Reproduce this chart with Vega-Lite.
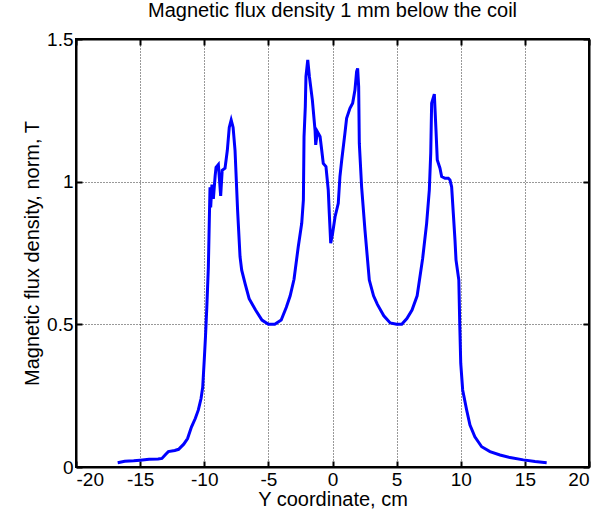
{
  "$schema": "https://vega.github.io/schema/vega-lite/v6.json",
  "width": 513,
  "height": 428,
  "autosize": {"type": "none"},
  "padding": {"left": 76, "top": 39, "right": 21, "bottom": 46},
  "background": "white",
  "title": {"text": "Magnetic flux density 1 mm below the coil", "fontSize": 20, "font": "Liberation Sans", "fontWeight": "normal", "color": "black", "offset": 9},
  "config": {
    "view": {"stroke": "black", "strokeWidth": 2},
    "axis": {"labelFont": "Liberation Sans", "titleFont": "Liberation Sans", "labelFontSize": 19, "titleFontSize": 20, "titleFontWeight": "normal", "labelColor": "black", "titleColor": "black", "domainColor": "black", "domainWidth": 2, "tickColor": "black", "tickWidth": 2, "gridColor": "#333", "gridDash": [1, 2], "gridWidth": 1, "gridOpacity": 1}
  },
  "data": {"values": [
    {"x": -16.75, "b": 0.015}, {"x": -16.2, "b": 0.02}, {"x": -15.5, "b": 0.022}, {"x": -15, "b": 0.024}, {"x": -14.3, "b": 0.027}, {"x": -13.6, "b": 0.028}, {"x": -13.3, "b": 0.03}, {"x": -13.0, "b": 0.045}, {"x": -12.8, "b": 0.054}, {"x": -12.3, "b": 0.058}, {"x": -12.0, "b": 0.062}, {"x": -11.6, "b": 0.08}, {"x": -11.3, "b": 0.1}, {"x": -11.0, "b": 0.14}, {"x": -10.7, "b": 0.17}, {"x": -10.46, "b": 0.2}, {"x": -10.25, "b": 0.24}, {"x": -10.12, "b": 0.28}, {"x": -10.0, "b": 0.375}, {"x": -9.9, "b": 0.46}, {"x": -9.8, "b": 0.56}, {"x": -9.68, "b": 0.70}, {"x": -9.6, "b": 0.877}, {"x": -9.55, "b": 0.98}, {"x": -9.5, "b": 0.91}, {"x": -9.4, "b": 0.99}, {"x": -9.29, "b": 0.94}, {"x": -9.15, "b": 1.02}, {"x": -9.08, "b": 1.05}, {"x": -8.9, "b": 1.06}, {"x": -8.8, "b": 1.0}, {"x": -8.72, "b": 0.95}, {"x": -8.6, "b": 1.04}, {"x": -8.38, "b": 1.047}, {"x": -8.2, "b": 1.11}, {"x": -8.05, "b": 1.19}, {"x": -7.9, "b": 1.216}, {"x": -7.75, "b": 1.19}, {"x": -7.6, "b": 1.11}, {"x": -7.4, "b": 0.9}, {"x": -7.21, "b": 0.737}, {"x": -7.08, "b": 0.69}, {"x": -6.8, "b": 0.64}, {"x": -6.5, "b": 0.59}, {"x": -6, "b": 0.55}, {"x": -5.5, "b": 0.515}, {"x": -5, "b": 0.50}, {"x": -4.5, "b": 0.50}, {"x": -4, "b": 0.515}, {"x": -3.6, "b": 0.56}, {"x": -3.3, "b": 0.6}, {"x": -3.0, "b": 0.658}, {"x": -2.67, "b": 0.772}, {"x": -2.4, "b": 0.854}, {"x": -2.27, "b": 0.936}, {"x": -2.22, "b": 1.158}, {"x": -2.12, "b": 1.263}, {"x": -2.07, "b": 1.368}, {"x": -1.93, "b": 1.427}, {"x": -1.8, "b": 1.368}, {"x": -1.57, "b": 1.286}, {"x": -1.36, "b": 1.18}, {"x": -1.31, "b": 1.129}, {"x": -1.18, "b": 1.175}, {"x": -0.97, "b": 1.158}, {"x": -0.84, "b": 1.11}, {"x": -0.72, "b": 1.064}, {"x": -0.51, "b": 1.053}, {"x": -0.33, "b": 0.97}, {"x": -0.25, "b": 0.889}, {"x": -0.14, "b": 0.784}, {"x": 0.01, "b": 0.819}, {"x": 0.2, "b": 0.877}, {"x": 0.45, "b": 0.924}, {"x": 0.58, "b": 1.018}, {"x": 0.72, "b": 1.076}, {"x": 0.97, "b": 1.17}, {"x": 1.1, "b": 1.222}, {"x": 1.36, "b": 1.257}, {"x": 1.57, "b": 1.275}, {"x": 1.75, "b": 1.321}, {"x": 1.88, "b": 1.386}, {"x": 1.96, "b": 1.397}, {"x": 2.04, "b": 1.333}, {"x": 2.09, "b": 1.135}, {"x": 2.27, "b": 0.982}, {"x": 2.53, "b": 0.831}, {"x": 2.87, "b": 0.655}, {"x": 3.2, "b": 0.6}, {"x": 3.5, "b": 0.57}, {"x": 4, "b": 0.53}, {"x": 4.5, "b": 0.505}, {"x": 5, "b": 0.50}, {"x": 5.4, "b": 0.50}, {"x": 5.8, "b": 0.52}, {"x": 6.2, "b": 0.55}, {"x": 6.6, "b": 0.6}, {"x": 7.03, "b": 0.731}, {"x": 7.34, "b": 0.854}, {"x": 7.55, "b": 0.971}, {"x": 7.66, "b": 1.1}, {"x": 7.73, "b": 1.275}, {"x": 7.94, "b": 1.307}, {"x": 8.07, "b": 1.18}, {"x": 8.17, "b": 1.076}, {"x": 8.38, "b": 1.047}, {"x": 8.51, "b": 1.018}, {"x": 8.77, "b": 1.012}, {"x": 9.03, "b": 1.012}, {"x": 9.16, "b": 1.006}, {"x": 9.29, "b": 0.982}, {"x": 9.42, "b": 0.889}, {"x": 9.55, "b": 0.796}, {"x": 9.63, "b": 0.726}, {"x": 9.85, "b": 0.655}, {"x": 9.92, "b": 0.504}, {"x": 10.0, "b": 0.363}, {"x": 10.15, "b": 0.27}, {"x": 10.46, "b": 0.2}, {"x": 10.72, "b": 0.147}, {"x": 11.1, "b": 0.106}, {"x": 11.63, "b": 0.071}, {"x": 12.28, "b": 0.054}, {"x": 13.06, "b": 0.042}, {"x": 13.84, "b": 0.033}, {"x": 14.88, "b": 0.025}, {"x": 15.79, "b": 0.019}, {"x": 16.7, "b": 0.015}
  ]},
  "layer": [
    {
      "mark": {"type": "line", "color": "#0000FF", "strokeWidth": 3, "clip": true},
      "encoding": {
        "x": {"field": "x", "type": "quantitative", "scale": {"domain": [-20, 20], "nice": false}, "axis": {"orient": "bottom", "title": "Y coordinate, cm", "values": [-20, -15, -10, -5, 0, 5, 10, 15, 20], "labelExpr": "'' + datum.value", "tickSize": -6, "labelPadding": 9, "titlePadding": 0, "grid": true}},
        "y": {"field": "b", "type": "quantitative", "scale": {"domain": [0, 1.5], "nice": false}, "axis": {"orient": "left", "title": "Magnetic flux density, norm, T", "values": [0, 0.5, 1, 1.5], "labelExpr": "'' + datum.value", "tickSize": -6, "labelPadding": 9, "titlePadding": 4, "grid": true}}
      }
    },
    {
      "mark": {"type": "line", "opacity": 0},
      "encoding": {
        "x": {"field": "x", "type": "quantitative", "scale": {"domain": [-20, 20], "nice": false}, "axis": {"orient": "top", "title": null, "labels": false, "values": [-20, -15, -10, -5, 0, 5, 10, 15, 20], "tickSize": -6, "grid": false}},
        "y": {"field": "b", "type": "quantitative", "scale": {"domain": [0, 1.5], "nice": false}, "axis": {"orient": "right", "title": null, "labels": false, "values": [0, 0.5, 1, 1.5], "tickSize": -6, "grid": false}}
      }
    }
  ],
  "resolve": {"axis": {"x": "independent", "y": "independent"}}
}
